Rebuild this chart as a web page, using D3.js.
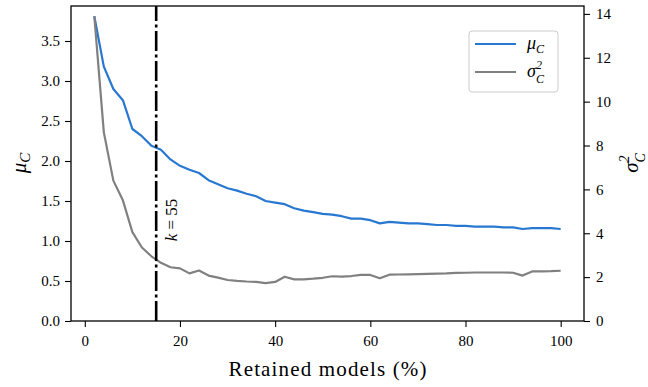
<!DOCTYPE html>
<html><head><meta charset="utf-8">
<script src="https://cdn.jsdelivr.net/npm/d3@7"></script>
<style>
html,body{margin:0;padding:0;background:#fff;}
</style></head>
<body><svg id="c" width="648" height="387"></svg>
<script>
const retained = d3.range(2, 101, 2);
const muC = [3.81,3.18,2.90,2.76,2.40,2.31,2.19,2.14,2.02,1.94,
  1.89,1.85,1.76,1.71,1.66,1.63,1.59,1.56,1.50,1.48,
  1.46,1.41,1.38,1.36,1.34,1.33,1.31,1.28,1.28,1.26,
  1.22,1.24,1.23,1.22,1.22,1.21,1.20,1.20,1.19,1.19,
  1.18,1.18,1.18,1.17,1.17,1.15,1.16,1.16,1.16,1.15];
const sigmaC2 = [13.9,8.6,6.4,5.5,4.05,3.35,2.95,2.65,2.45,2.40,
  2.17,2.30,2.07,1.98,1.87,1.83,1.80,1.78,1.73,1.78,
  2.02,1.90,1.90,1.93,1.97,2.04,2.02,2.05,2.10,2.10,
  1.95,2.11,2.12,2.13,2.14,2.15,2.16,2.17,2.19,2.20,
  2.21,2.21,2.21,2.21,2.20,2.07,2.26,2.26,2.27,2.29];
const xTicks = [0,20,40,60,80,100];
const leftTicks = [0,0.5,1,1.5,2,2.5,3,3.5];
const rightTicks = [0,2,4,6,8,10,12,14];
const kPercent = 15;
const kLabel = "55";

const FONT = "Liberation Serif, DejaVu Serif, serif";
const L=71, R=584, T=6, B=321;
const svg = d3.select("#c");
const x = d3.scaleLinear().domain([-2.9,104.9]).range([L,R]);
const yL = d3.scaleLinear().domain([0,3.9375]).range([B,T]);
const yR = d3.scaleLinear().domain([0,14.36]).range([B,T]);

const blue="#2878d2", gray="#808080";

const lineL = d3.line().x((d,i)=>x(retained[i])).y(d=>yL(d));
const lineR = d3.line().x((d,i)=>x(retained[i])).y(d=>yR(d));
svg.append("path").attr("d", lineL(muC)).attr("fill","none").attr("stroke",blue).attr("stroke-width",2.2).attr("stroke-linejoin","round");
svg.append("path").attr("d", lineR(sigmaC2)).attr("fill","none").attr("stroke",gray).attr("stroke-width",2.2).attr("stroke-linejoin","round");

svg.append("line").attr("x1",x(kPercent)).attr("x2",x(kPercent)).attr("y1",B).attr("y2",T)
  .attr("stroke","#000").attr("stroke-width",2.6).attr("stroke-dasharray","20,3.5,3,3.5");

const kt = svg.append("text").attr("transform",`translate(${x(kPercent)+21},220) rotate(-90)`)
  .attr("text-anchor","middle").attr("font-size",17).attr("font-family",FONT);
kt.append("tspan").attr("font-style","italic").text("k");
kt.append("tspan").text(" = " + kLabel);

const ax = svg.append("g").attr("transform",`translate(0,${B})`)
  .call(d3.axisBottom(x).tickValues(xTicks).tickSize(6).tickPadding(5).tickFormat(d3.format("d")));
const ayl = svg.append("g").attr("transform",`translate(${L},0)`)
  .call(d3.axisLeft(yL).tickValues(leftTicks).tickSize(6).tickPadding(5).tickFormat(d3.format(".1f")));
const ayr = svg.append("g").attr("transform",`translate(${R},0)`)
  .call(d3.axisRight(yR).tickValues(rightTicks).tickSize(6).tickPadding(6).tickFormat(d3.format("d")));
[ax,ayl,ayr].forEach(g=>{
  g.attr("font-family",FONT).attr("font-size",15);
  g.select(".domain").remove();
  g.selectAll(".tick line").attr("stroke","#000").attr("stroke-width",1.1);
  g.selectAll(".tick text").attr("fill","#000");
});
ax.selectAll(".tick text").attr("dy","0.9em");

svg.append("rect").attr("x",L).attr("y",T).attr("width",R-L).attr("height",B-T)
  .attr("fill","none").attr("stroke","#000").attr("stroke-width",1.3);

svg.append("text").attr("x",(L+R)/2).attr("y",376).attr("text-anchor","middle").attr("font-family",FONT)
  .attr("font-size",21).attr("textLength",198).attr("lengthAdjust","spacing").text("Retained models (%)");

const ylab = svg.append("text").attr("transform","translate(26,163) rotate(-90)").attr("text-anchor","middle").attr("font-size",21).attr("font-family",FONT);
ylab.append("tspan").attr("font-style","italic").text("μ");
ylab.append("tspan").attr("font-style","italic").attr("font-size",15).attr("dy",4).text("C");

const yrlab = svg.append("text").attr("transform","translate(638,163) rotate(-90)").attr("text-anchor","middle").attr("font-size",21).attr("font-family",FONT);
yrlab.append("tspan").attr("font-style","italic").text("σ");
yrlab.append("tspan").attr("font-style","italic").attr("font-size",14).attr("dy",-9).text("2");
yrlab.append("tspan").attr("font-style","italic").attr("font-size",14).attr("dx",-7).attr("dy",16).text("C");

const lg = svg.append("g");
lg.append("rect").attr("x",469).attr("y",31).attr("width",89).attr("height",61).attr("rx",3)
  .attr("fill","#fff").attr("fill-opacity",0.8).attr("stroke","#ccc").attr("stroke-width",1);
const items=[{c:blue,sym:"μ",sup:null},{c:gray,sym:"σ",sup:"2"}];
items.forEach((it,i)=>{
  const yy = 44 + i*28;
  lg.append("line").attr("x1",475).attr("x2",516).attr("y1",yy).attr("y2",yy).attr("stroke",it.c).attr("stroke-width",2.2);
  const t = lg.append("text").attr("x",527).attr("y",yy+5).attr("font-size",18).attr("font-family",FONT);
  t.append("tspan").attr("font-style","italic").text(it.sym);
  if(it.sup){
    t.append("tspan").attr("font-style","italic").attr("font-size",12).attr("dy",-8).text(it.sup);
    t.append("tspan").attr("font-style","italic").attr("font-size",12).attr("dx",-6).attr("dy",14).text("C");
  } else {
    t.append("tspan").attr("font-style","italic").attr("font-size",12).attr("dy",4).text("C");
  }
});
</script></body></html>
